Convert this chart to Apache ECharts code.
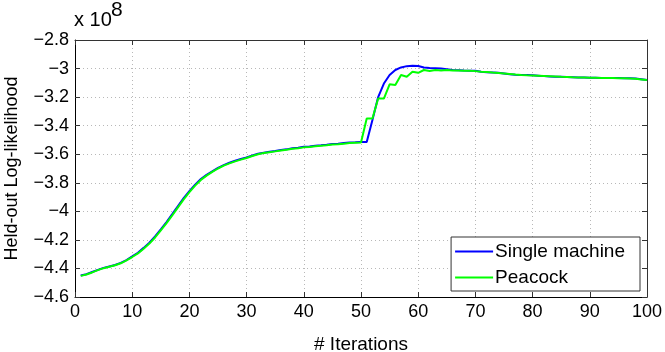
<!DOCTYPE html>
<html>
<head>
<meta charset="utf-8">
<script src="https://cdn.jsdelivr.net/npm/echarts@6/dist/echarts.min.js"></script>
<style>html,body{margin:0;padding:0;background:#fff}#c{width:665px;height:352px}</style>
</head>
<body>
<div id="c"></div>
<script>
const iterations = Array.from({length: 100}, (_, k) => k + 1);
const singleMachine = [
 -4.450,-4.440,-4.425,-4.410,-4.396,-4.386,-4.376,-4.361,-4.341,-4.316,
 -4.290,-4.256,-4.220,-4.176,-4.126,-4.075,-4.020,-3.964,-3.908,-3.858,
 -3.813,-3.774,-3.745,-3.720,-3.696,-3.676,-3.660,-3.646,-3.634,-3.622,
 -3.609,-3.597,-3.589,-3.583,-3.578,-3.570,-3.566,-3.558,-3.555,-3.548,
 -3.546,-3.540,-3.538,-3.534,-3.528,-3.527,-3.522,-3.518,-3.517,-3.515,
 -3.515,-3.360,-3.200,-3.105,-3.045,-3.010,-2.992,-2.983,-2.980,-2.982,
 -2.993,-2.996,-2.998,-3.000,-3.004,-3.010,-3.012,-3.014,-3.015,-3.016,
 -3.022,-3.026,-3.028,-3.030,-3.034,-3.040,-3.043,-3.045,-3.046,-3.047,
 -3.050,-3.053,-3.055,-3.057,-3.058,-3.060,-3.061,-3.062,-3.063,-3.064,
 -3.065,-3.066,-3.066,-3.067,-3.067,-3.068,-3.068,-3.070,-3.075,-3.080
];
const peacock = [
 -4.452,-4.442,-4.428,-4.412,-4.398,-4.388,-4.378,-4.364,-4.344,-4.320,
 -4.295,-4.262,-4.226,-4.183,-4.134,-4.083,-4.028,-3.972,-3.916,-3.866,
 -3.820,-3.780,-3.750,-3.724,-3.700,-3.680,-3.664,-3.650,-3.638,-3.626,
 -3.612,-3.600,-3.592,-3.586,-3.580,-3.574,-3.569,-3.562,-3.558,-3.552,
 -3.549,-3.544,-3.541,-3.537,-3.532,-3.530,-3.526,-3.522,-3.520,-3.518,
 -3.350,-3.350,-3.210,-3.210,-3.110,-3.115,-3.045,-3.057,-3.022,-3.030,
 -3.010,-3.017,-3.010,-3.013,-3.010,-3.013,-3.014,-3.016,-3.016,-3.018,
 -3.022,-3.024,-3.028,-3.031,-3.034,-3.038,-3.042,-3.045,-3.047,-3.048,
 -3.050,-3.052,-3.054,-3.056,-3.058,-3.059,-3.061,-3.062,-3.063,-3.064,
 -3.065,-3.066,-3.067,-3.067,-3.068,-3.068,-3.069,-3.072,-3.076,-3.080
];
const xTicks = {min: 0, max: 100, interval: 10};
const yTicks = {min: -4.6, max: -2.8, interval: 0.2};
const seriesNames = ['Single machine', 'Peacock'];
const exponentLabel = '8';

const FONT = 'Liberation Sans';
const fmtY = v => { const s = String(parseFloat(v.toFixed(1))); return s.replace('-', '\u2212'); };
const grid = {left: 75, right: 18, top: 40, bottom: 55, outerBoundsMode: 'none', containLabel: false};
const split = {show: true, lineStyle: {color: '#b8b8b8', type: [1, 3], width: 1}};
const chart = echarts.init(document.getElementById('c'), null, {renderer: 'canvas'});
chart.setOption({
  animation: false,
  backgroundColor: '#fff',
  grid: grid,
  graphic: [
    {type: 'text', left: 74, top: 10, style: {text: 'x 10', fontFamily: FONT, fontSize: 20, fill: '#000'}},
    {type: 'text', left: 111, top: 0, style: {text: exponentLabel, fontFamily: FONT, fontSize: 21, fill: '#000'}}
  ],
  legend: {
    orient: 'vertical', right: 25, bottom: 61,
    data: seriesNames,
    icon: 'rect', itemWidth: 38, itemHeight: 2, itemGap: 7,
    backgroundColor: '#fff', borderColor: '#333', borderWidth: 1,
    padding: [5, 15, 4, 4],
    textStyle: {fontFamily: FONT, fontSize: 19, color: '#000', padding: [0, 0, 0, -3]}
  },
  xAxis: [{
    type: 'value', min: xTicks.min, max: xTicks.max, interval: xTicks.interval,
    name: '# Iterations', nameLocation: 'middle', nameGap: 38,
    nameTextStyle: {fontFamily: FONT, fontSize: 19, color: '#000'},
    axisLine: {show: true, onZero: false, lineStyle: {color: '#000', width: 1}},
    axisTick: {show: true, inside: true, length: 5, lineStyle: {color: '#333'}},
    axisLabel: {fontFamily: FONT, fontSize: 18, color: '#000', margin: 6},
    splitLine: split
  }, {
    type: 'value', position: 'top', min: xTicks.min, max: xTicks.max, interval: xTicks.interval,
    axisLine: {show: true, onZero: false, lineStyle: {color: '#333', width: 1}},
    axisTick: {show: true, inside: true, length: 5, lineStyle: {color: '#333'}},
    axisLabel: {show: false}, splitLine: {show: false}
  }],
  yAxis: [{
    type: 'value', min: yTicks.min, max: yTicks.max, interval: yTicks.interval,
    name: 'Held-out Log-likelihood', nameLocation: 'middle', nameGap: 54,
    nameTextStyle: {fontFamily: FONT, fontSize: 18, color: '#000'},
    axisLine: {show: true, onZero: false, lineStyle: {color: '#000', width: 1}},
    axisTick: {show: true, inside: true, length: 5, lineStyle: {color: '#333'}},
    axisLabel: {fontFamily: FONT, fontSize: 18, color: '#000', margin: 6, formatter: fmtY},
    splitLine: split
  }, {
    type: 'value', position: 'right', min: yTicks.min, max: yTicks.max, interval: yTicks.interval,
    axisLine: {show: true, onZero: false, lineStyle: {color: '#333', width: 1}},
    axisTick: {show: true, inside: true, length: 5, lineStyle: {color: '#333'}},
    axisLabel: {show: false}, splitLine: {show: false}
  }],
  series: [{
    name: seriesNames[0], type: 'line', showSymbol: false, symbol: 'none',
    data: iterations.map((it, k) => [it, singleMachine[k]]),
    itemStyle: {color: '#0000ff'}, lineStyle: {color: '#0000ff', width: 2}
  }, {
    name: seriesNames[1], type: 'line', showSymbol: false, symbol: 'none',
    data: iterations.map((it, k) => [it, peacock[k]]),
    itemStyle: {color: '#00ff00'}, lineStyle: {color: '#00ff00', width: 2}
  }]
});
</script>
</body>
</html>
